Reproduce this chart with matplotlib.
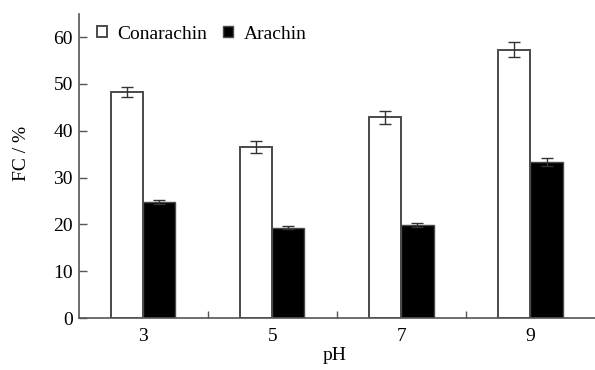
import matplotlib
matplotlib.use("Agg")
import matplotlib.pyplot as plt
import numpy as np

categories = ["3", "5", "7", "9"]
conarachin = [48.2, 36.6, 42.9, 57.3]
conarachin_err = [1.1, 1.3, 1.4, 1.6]
arachin = [24.8, 19.3, 19.9, 33.3]
arachin_err = [0.4, 0.3, 0.5, 0.9]

plt.rcParams['font.family'] = ['Liberation Serif', 'DejaVu Serif']
FS = 14

fig = plt.figure(figsize=(5.95, 3.70), dpi=100)
ax = fig.add_axes([0.132, 0.1405, 0.868, 0.8225])

x = np.arange(len(categories))
w = 0.25
edge = '#4a4a4a'
ax.bar(x - w/2, conarachin, w, color='white', edgecolor=edge, linewidth=1.4,
       yerr=conarachin_err, capsize=4, error_kw=dict(ecolor='#333333', elinewidth=1.0, capthick=1.0),
       label='Conarachin')
ax.bar(x + w/2, arachin, w, color='black', edgecolor=edge, linewidth=1.0,
       yerr=arachin_err, capsize=4, error_kw=dict(ecolor='#333333', elinewidth=1.0, capthick=1.0),
       label='Arachin')

ax.set_xlim(-0.5, 3.5)
ax.set_ylim(0, 65)
ax.set_yticks([0, 10, 20, 30, 40, 50, 60])
ax.set_xticks(x)
ax.set_xticklabels(categories)
ax.set_xticks([0.5, 1.5, 2.5], minor=True)
ax.tick_params(axis='x', which='major', length=0, pad=7, labelsize=FS)
ax.tick_params(axis='x', which='minor', direction='in', length=5, width=1.0, color='#555555')
ax.tick_params(axis='y', direction='in', length=6, width=1.0, color='#555555', labelsize=FS, pad=4)

for s in ['top', 'right']:
    ax.spines[s].set_visible(False)
for s in ['left', 'bottom']:
    ax.spines[s].set_color('#555555')
    ax.spines[s].set_linewidth(1.2)

ax.set_xlabel('pH', fontsize=FS, va='center')
ax.xaxis.set_label_coords(0.495, -0.122)
ax.set_ylabel('FC / %', fontsize=FS, va='center', ha='center')
ax.yaxis.set_label_coords(-0.111, 0.54)

leg = ax.legend(loc='center left', bbox_to_anchor=(0.036, 0.933), ncol=2, frameon=False,
                fontsize=FS, handlelength=0.5, handleheight=0.5, handletextpad=0.55,
                columnspacing=0.8, borderaxespad=0, borderpad=0)

fig.savefig('out.png', dpi=100)
